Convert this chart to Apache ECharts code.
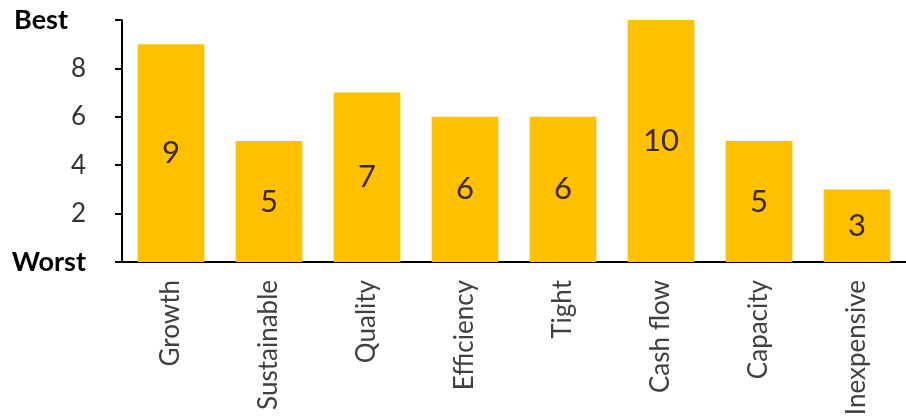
<!DOCTYPE html>
<html>
<head>
<meta charset="utf-8">
<script src="https://cdn.jsdelivr.net/npm/echarts@6/dist/echarts.min.js"></script>
<style>
  html, body { margin: 0; padding: 0; background: #fff; }
  #chart { width: 906px; height: 416px; }
</style>
</head>
<body>
<div id="chart"></div>
<script>
var categories = ['Growth', 'Sustainable', 'Quality', 'Efficiency', 'Tight', 'Cash flow', 'Capacity', 'Inexpensive']
var scores = [9, 5, 7, 6, 6, 10, 5, 3]
var yTickLabels = { 0: 'Worst', 2: '2', 4: '4', 6: '6', 8: '8', 10: 'Best' }

var chart = echarts.init(document.getElementById('chart'))
chart.setOption({
  animation: false,
  textStyle: { fontFamily: 'Lato' },
  grid: {
    top: 20,
    left: 122,
    right: 0,
    bottom: 154,
    outerBoundsMode: 'none'
  },
  xAxis: {
    type: 'category',
    data: categories,
    axisLine: { lineStyle: { color: '#000', width: 2 } },
    axisTick: { length: 6, lineStyle: { color: '#000', width: 2 } },
    axisLabel: {
      rotate: 90,
      margin: 18,
      fontSize: 26,
      color: '#404040'
    }
  },
  yAxis: {
    type: 'value',
    min: 0,
    max: 10,
    interval: 2,
    splitLine: { show: false },
    axisLine: { show: true, lineStyle: { color: '#000', width: 2 } },
    axisTick: { show: true, length: 7, lineStyle: { color: '#000', width: 2 } },
    axisLabel: {
      margin: 36,
      formatter: function (v) {
        if (v === 10) return '{b|' + yTickLabels[v] + '}'
        if (v === 0) return '{w|' + yTickLabels[v] + '}'
        return '{n|' + yTickLabels[v] + '}'
      },
      rich: {
        n: { fontSize: 26, color: '#333' },
        b: { fontSize: 27, fontWeight: 'bold', color: '#000', padding: [0, 18, 0, 0] },
        w: { fontSize: 27, fontWeight: 'bold', color: '#000' }
      }
    }
  },
  series: [{
    type: 'bar',
    data: scores,
    barCategoryGap: '32%',
    itemStyle: { color: '#FFC000' },
    label: {
      show: true,
      position: 'inside',
      fontSize: 31,
      color: '#3b2a0a'
    }
  }]
})
</script>
</body>
</html>
